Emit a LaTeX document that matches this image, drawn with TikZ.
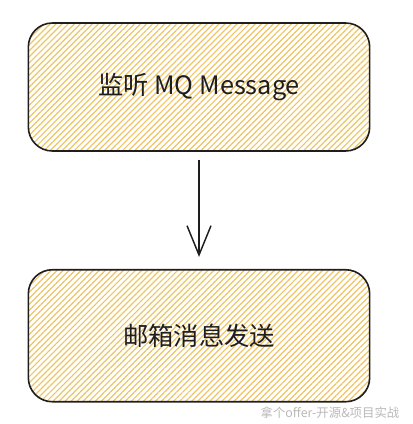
\documentclass[tikz,border=0pt]{standalone}
\usepackage{fontspec}
\setmainfont{Noto Sans CJK SC}
\newfontfamily\cjk{Noto Sans CJK SC}
\usepackage{tikz}
\usetikzlibrary{positioning,calc}
\usetikzlibrary{arrows.meta,patterns.meta}
\definecolor{HatchGold}{RGB}{238,196,100}
\definecolor{InkBlack}{RGB}{30,30,30}
\definecolor{MarkGray}{RGB}{185,185,185}
\tikzset{
	stepbox/.style={draw=InkBlack,line width=1.2pt,rounded corners=18pt,
		minimum width=256pt,minimum height=96pt,inner sep=0pt,
		pattern={Lines[angle=45,distance=3.2pt,line width=0.9pt]},pattern color=HatchGold,
		font=\cjk\fontsize{19}{22}\selectfont,text=InkBlack},
	flow/.style={draw=InkBlack,line width=1.1pt,-{Straight Barb[length=22pt,width=18pt,line width=1.1pt]}},
}

\begin{document}
\begin{tikzpicture}[x=0.75pt,y=-0.75pt]
					\useasboundingbox (0,0) rectangle (412,424);
					\node[stepbox] (listen) at (199,87) {监听 MQ Message};
					\node[stepbox,minimum height=99pt,below=88pt of listen] (mail) {邮箱消息发送};
					\draw[flow,shorten <=6pt,shorten >=9pt] (listen) -- (mail);
					\node[text=MarkGray,font=\cjk\fontsize{9.3}{11}\selectfont,anchor=east] (mark) at (404,413) {拿个offer-开源\&项目实战};
				\end{tikzpicture}
\end{document}
